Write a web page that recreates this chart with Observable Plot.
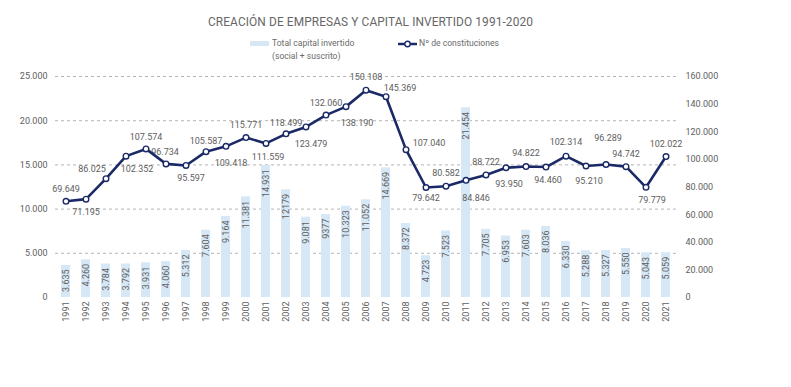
<!DOCTYPE html>
<html>
<head>
<meta charset="utf-8">
<script src="https://cdn.jsdelivr.net/npm/d3@7"></script>
<script src="https://cdn.jsdelivr.net/npm/@observablehq/plot@0.6"></script>
<style>
  body { margin: 0; background: #fff; font-family: Roboto, "Open Sans", sans-serif; }
  #header { position: relative; width: 791px; height: 62px; }
  #title { position: absolute; left: 208px; top: 14px; font-size: 11.9px; line-height: 16px; color: #666; white-space: nowrap; letter-spacing: 0.1px; }
  .lt { position: absolute; font-size: 8.6px; line-height: 13px; color: #6a6a6a; white-space: nowrap; }
  #sw1 { position: absolute; left: 250px; top: 41px; width: 19px; height: 5px; background: #d6e7f5; }
  #sw2 { position: absolute; left: 397px; top: 38px; }
  #chart { width: 791px; height: 325px; }
</style>
</head>
<body>
<div id="header">
  <div id="title">CREACIÓN DE EMPRESAS Y CAPITAL INVERTIDO 1991-2020</div>
  <div id="sw1"></div>
  <div class="lt" style="left:272px; top:37px;">Total capital invertido<br>(social + suscrito)</div>
  <svg id="sw2" width="22" height="12"><line x1="1" y1="6" x2="20" y2="6" stroke="#1b2a66" stroke-width="2.5"/><circle cx="10.5" cy="6" r="2.7" fill="#fff" stroke="#1b2a66" stroke-width="1.4"/></svg>
  <div class="lt" style="left:419px; top:37px;">Nº de constituciones</div>
</div>
<div id="chart"></div>
<script>
// ---- data ----
const years = [1991,1992,1993,1994,1995,1996,1997,1998,1999,2000,2001,2002,2003,2004,2005,2006,2007,2008,2009,2010,2011,2012,2013,2014,2015,2016,2017,2018,2019,2020,2021];
const capital = [3635,4260,3784,3792,3931,4060,5312,7604,9164,11381,14931,12179,9081,9377,10323,11052,14669,8372,4723,7523,21454,7705,6953,7603,8036,6330,5288,5327,5550,5043,5059];
const capitalLabels = ["3.635","4.260","3.784","3.792","3.931","4.060","5.312","7.604","9.164","11.381","14.931","12179","9.081","9377","10.323","11.052","14.669","8.372","4.723","7.523","21.454","7.705","6.953","7.603","8.036","6.330","5.288","5.327","5.550","5.043","5.059"];
const constituciones = [69649,71195,86025,102352,107574,96734,95597,105587,109418,115771,111559,118499,123479,132060,138190,150108,145369,107040,79642,80582,84846,88722,93950,94822,94460,102314,95210,96289,94742,79779,102022];
const leftTicks = [0,5000,10000,15000,20000,25000];
const rightTicks = [0,20000,40000,60000,80000,100000,120000,140000,160000];

// ---- chart ----
const fmt = d3.formatLocale({decimal: ",", thousands: ".", grouping: [3], currency: ["", "€"]}).format(",d");
const K = 25000 / 160000;
const navy = "#1b2a66", blue = "#d6e7f5", grey = "#5e5e5e";
const rows = years.map((y, i) => ({year: String(y), cap: capital[i], capLabel: capitalLabels[i], n: constituciones[i], nLabel: fmt(constituciones[i])}));

// label placement offsets [dx, dy] for the line labels
const off = {
  1991:[0,-12],1992:[0,13],1993:[-14,-10],1994:[11,13],1995:[0,-12],1996:[-1,-12],1997:[5,13],1998:[0,-11],
  1999:[5,17],2000:[0,-12],2001:[2,14],2002:[0,-11],2003:[5,17],2004:[0,-12],2005:[11,16],2006:[0,-13],
  2007:[14,-9],2008:[23,-7],2009:[0,11],2010:[0,-13],2011:[10,18],2012:[0,-13],2013:[3,16],2014:[0,-13],
  2015:[2,13],2016:[0,-14],2017:[3,15],2018:[2,-26],2019:[0,-13],2020:[6,13],2021:[0,-12]
};
const groups = d3.groups(rows, d => off[d.year].join(","));
const labelMarks = groups.map(([key, data]) => {
  const [dx, dy] = key.split(",").map(Number);
  return Plot.text(data, {x: "year", y: d => d.n * K, text: "nLabel", dx, dy, fill: grey, fontSize: 9});
});

const plot = Plot.plot({
  width: 791, height: 325,
  marginTop: 14, marginBottom: 90, marginLeft: 55, marginRight: 115,
  style: {fontFamily: "Roboto, sans-serif", fontSize: "9px", color: grey, background: "white"},
  x: {type: "band", domain: years.map(String), paddingInner: 0.55, paddingOuter: 0.275, align: 0.5},
  y: {domain: [0, 25000]},
  marks: [
    Plot.gridY(leftTicks.filter(d => d > 0), {stroke: "#b5b5b5", strokeOpacity: 1, strokeDasharray: "3,3"}),
    Plot.barY(rows, {x: "year", y: "cap", fill: blue}),
    Plot.text(rows, {x: "year", y: "cap", text: "capLabel", rotate: -90, textAnchor: "end", dy: 4, fill: grey, fontSize: 9}),
    ...labelMarks,
    Plot.line(rows, {x: "year", y: d => d.n * K, stroke: navy, strokeWidth: 2.6}),
    Plot.dot(rows, {x: "year", y: d => d.n * K, r: 2.8, fill: "white", stroke: navy, strokeWidth: 1.4}),
    Plot.axisY({ticks: leftTicks, tickFormat: fmt, tickSize: 0, tickPadding: 8, label: null, fill: grey}),
    Plot.axisY({anchor: "right", ticks: rightTicks.map(v => v * K), tickFormat: d => fmt(Math.round(d / K)), tickSize: 0, tickPadding: 9, label: null, fill: grey}),
    Plot.axisX({tickSize: 0, tickRotate: -90, tickPadding: 4, label: null, fill: grey})
  ]
});
document.getElementById("chart").appendChild(plot);
</script>
</body>
</html>
